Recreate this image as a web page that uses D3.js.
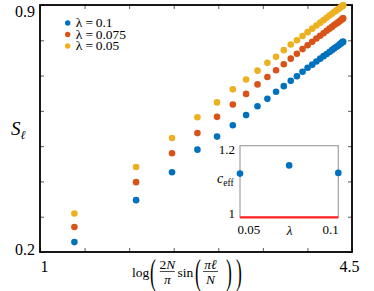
<!DOCTYPE html>
<html>
<head>
<meta charset="utf-8" />
<script src="https://d3js.org/d3.v7.min.js"></script>
<style>
  body { margin: 0; background: #fff; }
  svg text { font-family: "Liberation Serif", "Times New Roman", serif !important; fill: #000; }
</style>
</head>
<body>
<div id="canvas"></div>
<script>
var svgWidth = 374, svgHeight = 291;

// x = log(2N/pi sin(pi l/N)), l = 2,4,...,64 (N = 128)
var logX = [1.386, 2.078, 2.481, 2.766, 2.986, 3.163, 3.312, 3.440, 3.551, 3.648,
            3.735, 3.813, 3.882, 3.945, 4.002, 4.054, 4.101, 4.143, 4.181, 4.216,
            4.247, 4.275, 4.300, 4.321, 4.340, 4.357, 4.370, 4.381, 4.390, 4.396,
            4.399, 4.400];
// S_l, lambda = 0.1
var sL010 = [0.228, 0.347, 0.426, 0.490, 0.527, 0.559, 0.588, 0.613, 0.634, 0.654,
             0.670, 0.685, 0.698, 0.711, 0.722, 0.731, 0.740, 0.748, 0.755, 0.761,
             0.767, 0.772, 0.777, 0.781, 0.784, 0.787, 0.790, 0.792, 0.794, 0.795,
             0.796, 0.796];
// S_l, lambda = 0.075
var sL0075 = [0.271, 0.398, 0.480, 0.537, 0.583, 0.618, 0.648, 0.675, 0.696, 0.715,
              0.732, 0.748, 0.762, 0.775, 0.786, 0.796, 0.805, 0.813, 0.820, 0.827,
              0.833, 0.838, 0.843, 0.847, 0.850, 0.853, 0.856, 0.858, 0.860, 0.861,
              0.862, 0.862];
// S_l, lambda = 0.05
var sL005 = [0.309, 0.441, 0.523, 0.582, 0.624, 0.661, 0.689, 0.714, 0.736, 0.753,
             0.772, 0.788, 0.800, 0.812, 0.823, 0.833, 0.842, 0.850, 0.857, 0.864,
             0.870, 0.875, 0.880, 0.884, 0.887, 0.890, 0.893, 0.895, 0.897, 0.898,
             0.899, 0.899];

var seriesNames = ["0.1", "0.075", "0.05"];
var seriesColors = ["#0072BD", "#D95319", "#EDB120"];

// inset: effective central charge
var insetLambda = [0.05, 0.075, 0.1];
var insetCeff = [1.122, 1.145, 1.124];
var refC = 1;

var xTicks = [1, 1.5, 2, 2.5, 3, 3.5, 4, 4.5];
var yTicks = [0.2, 0.3, 0.4, 0.5, 0.6, 0.7, 0.8, 0.9];

var padL = 40, padR = 352, padT = 5, padB = 252;
var serif = "Liberation Serif";

var svg = d3.select("#canvas").append("svg")
    .attr("width", svgWidth)
    .attr("height", svgHeight)
    .attr("font-family", serif);

var x = d3.scaleLinear().domain([1, 4.5]).range([padL, padR]);
var y = d3.scaleLinear().domain([0.2, 0.9]).range([padB, padT]);

function styleAxis(g) {
    g.attr("font-family", serif);
    g.select(".domain").remove();
    g.selectAll(".tick line").attr("stroke", "#333").attr("stroke-width", 0.8);
    g.selectAll("text").style("font-size", "16px").attr("fill", "#000");
}

// ticks (inward) on four sides
var labelX = function (d) { return (d === 1 || d === 4.5) ? d : ""; };
var gB = svg.append("g").attr("transform", "translate(0," + padB + ")")
    .call(d3.axisBottom(x).tickValues(xTicks).tickSize(-4).tickPadding(9).tickFormat(labelX))
    .call(styleAxis);
gB.selectAll(".tick text").attr("dx", function (d) { return d === 1 ? 4 : -3; });

svg.append("g").attr("transform", "translate(0," + padT + ")")
    .call(d3.axisTop(x).tickValues(xTicks).tickSize(-4).tickFormat(""))
    .call(styleAxis);

var labelY = function (d) { return (d === 0.2 || d === 0.9) ? d : ""; };
var gL = svg.append("g").attr("transform", "translate(" + padL + ",0)")
    .call(d3.axisLeft(y).tickValues(yTicks).tickSize(-4).tickPadding(5).tickFormat(labelY))
    .call(styleAxis);
gL.selectAll(".tick text").attr("dy", function (d) { return d === 0.9 ? "0.72em" : "0.15em"; });

svg.append("g").attr("transform", "translate(" + padR + ",0)")
    .call(d3.axisRight(y).tickValues(yTicks).tickSize(-4).tickFormat(""))
    .call(styleAxis);

// frame
svg.append("rect")
    .attr("x", padL).attr("y", padT)
    .attr("width", padR - padL).attr("height", padB - padT)
    .attr("fill", "none").attr("stroke", "#000").attr("stroke-width", 1.8);

// data points
var series = [sL010, sL0075, sL005];
series.forEach(function (vals, i) {
    svg.append("g").selectAll("circle")
        .data(vals)
        .enter().append("circle")
        .attr("cx", function (d, j) { return x(logX[j]); })
        .attr("cy", function (d) { return y(d); })
        .attr("r", 3.3)
        .attr("fill", seriesColors[i]);
});

// legend
var legend = svg.append("g");
seriesNames.forEach(function (name, i) {
    var cy = 23 + i * 11.5;
    legend.append("circle").attr("cx", 67.7).attr("cy", cy).attr("r", 2.7).attr("fill", seriesColors[i]);
    var t = legend.append("text").attr("y", cy + 4.3).style("font-size", "13.5px");
    t.append("tspan").attr("x", 75.7).text("λ");
    t.append("tspan").attr("x", 85.5).text("=");
    t.append("tspan").attr("x", 95.7).text(name);
});

// y label S_l
var yl = svg.append("text").attr("x", 11).attr("y", 135).style("font-size", "19px");
yl.append("tspan").style("font-style", "italic").text("S");
yl.append("tspan").attr("dy", 4).style("font-style", "italic").style("font-size", "12px").text("ℓ");

// x label: log( 2N/pi sin( pi l / N ) )
var xl = svg.append("g").style("font-size", "13.5px");
xl.append("text").attr("x", 132).attr("y", 277).text("log");
function paren(px, ch) {
    xl.append("text")
        .attr("transform", "translate(" + px + ",284) scale(0.5,1)")
        .style("font-size", "35px").text(ch);
}
function frac(cx, num, den) {
    xl.append("text").attr("x", cx).attr("y", 268.5).attr("text-anchor", "middle")
        .html(num);
    xl.append("line").attr("x1", cx - 7.5).attr("x2", cx + 7.5)
        .attr("y1", 271.5).attr("y2", 271.5).attr("stroke", "#000").attr("stroke-width", 0.7);
    xl.append("text").attr("x", cx).attr("y", 283.5).attr("text-anchor", "middle")
        .html(den);
}
paren(150, "(");
frac(167.3, '2<tspan font-style="italic">N</tspan>', '<tspan font-style="italic">π</tspan>');
xl.append("text").attr("x", 177.5).attr("y", 277).text("sin");
paren(195, "(");
frac(210.5, '<tspan font-style="italic">πℓ</tspan>', '<tspan font-style="italic">N</tspan>');
paren(226, ")");
paren(236, ")");

// inset
var ix = d3.scaleLinear().domain([0.05, 0.1]).range([240, 338.3]);
var iy = d3.scaleLinear().domain([1, 1.2]).range([217.3, 145.7]);
var inset = svg.append("g");
inset.append("rect")
    .attr("x", ix(0.05)).attr("y", iy(1.2))
    .attr("width", ix(0.1) - ix(0.05)).attr("height", iy(1) - iy(1.2))
    .attr("fill", "#fff").attr("stroke", "#a8a8a8").attr("stroke-width", 1.3);

var giL = inset.append("g").attr("transform", "translate(" + ix(0.05) + ",0)")
    .call(d3.axisLeft(iy).tickValues([1, 1.2]).tickSize(0).tickPadding(5).tickFormat(d3.format("")))
    .attr("font-family", serif);
giL.select(".domain").remove();
giL.selectAll("text").style("font-size", "13px").attr("fill", "#000")
    .attr("dy", function (d) { return d === 1.2 ? "0.6em" : "0.05em"; });

var giB = inset.append("g").attr("transform", "translate(0," + iy(1) + ")")
    .call(d3.axisBottom(ix).tickValues([0.05, 0.1]).tickSize(0).tickPadding(7).tickFormat(d3.format("")))
    .attr("font-family", serif);
giB.select(".domain").remove();
giB.selectAll("text").style("font-size", "13px").attr("fill", "#000")
    .attr("text-anchor", function (d) { return d === 0.05 ? "start" : "end"; })
    .attr("dx", function (d) { return d === 0.05 ? -3 : 0; });

inset.append("text").attr("x", 289.5).attr("y", 234.5).attr("text-anchor", "middle")
    .style("font-size", "13px").style("font-style", "italic").text("λ");
var cl = inset.append("text").attr("x", 217).attr("y", 183).style("font-size", "14px");
cl.append("tspan").style("font-style", "italic").text("c");
cl.append("tspan").attr("dy", 3).style("font-size", "9.5px").text("eff");

// reference line c = 1
inset.append("path")
    .datum([insetLambda[0], insetLambda[insetLambda.length - 1]])
    .attr("d", d3.line().x(function (d) { return ix(d); }).y(function () { return iy(refC); }))
    .attr("stroke", "#ff2222").attr("stroke-width", 2.2).attr("fill", "none");

inset.append("g").selectAll("circle")
    .data(insetCeff)
    .enter().append("circle")
    .attr("cx", function (d, i) { return ix(insetLambda[i]); })
    .attr("cy", function (d) { return iy(d); })
    .attr("r", 3.3)
    .attr("fill", "#0072BD");
</script>
</body>
</html>
